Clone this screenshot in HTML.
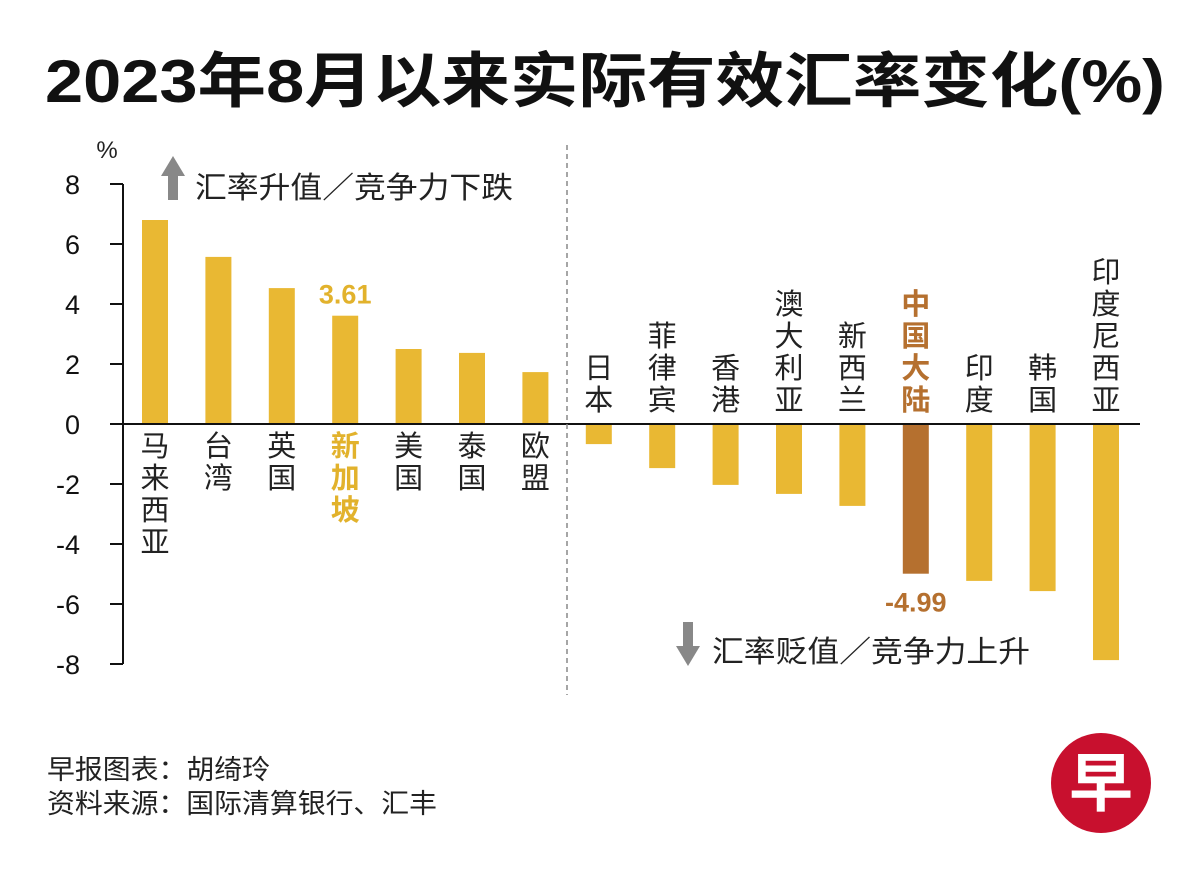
<!DOCTYPE html>
<html><head><meta charset="utf-8"><style>
body{margin:0;background:#fff;}
svg text{font-family:"Liberation Sans","Noto Sans CJK SC",sans-serif;}
</style></head><body>
<svg width="1200" height="873" viewBox="0 0 1200 873">
<text x="45" y="102" font-size="60" font-weight="bold" fill="#111" textLength="1120" lengthAdjust="spacingAndGlyphs">2023年8月以来实际有效汇率变化(%)</text>
<text x="107" y="158" text-anchor="middle" font-size="24" fill="#222">%</text>
<g id="axis"></g>
<g id="bars"></g>
<line x1="567" y1="145" x2="567" y2="695" stroke="#888" stroke-width="1.5" stroke-dasharray="5,4"/>
<g>
<path d="M168,200 L168,176 L161,176 L173,156 L185,176 L178,176 L178,200 Z" fill="#888"/>
<text x="195" y="198" font-size="30" fill="#222" textLength="318" lengthAdjust="spacingAndGlyphs">汇率升值／竞争力下跌</text>
</g>
<g>
<path d="M683,622 L683,646 L676,646 L688,666 L700,646 L693,646 L693,622 Z" fill="#888"/>
<text x="712" y="662" font-size="30" fill="#222" textLength="318" lengthAdjust="spacingAndGlyphs">汇率贬值／竞争力上升</text>
</g>
<text x="47" y="779" font-size="27" fill="#222" textLength="223" lengthAdjust="spacingAndGlyphs">早报图表：胡绮玲</text>
<text x="47" y="813" font-size="27" fill="#222" textLength="390" lengthAdjust="spacingAndGlyphs">资料来源：国际清算银行、汇丰</text>
<g>
<circle cx="1101" cy="783" r="50" fill="#C8102E"/>
<text x="1101" y="806" text-anchor="middle" font-size="64" font-weight="bold" fill="#fff">早</text>
</g>
</svg>
<script>
const categories=["马来西亚","台湾","英国","新加坡","美国","泰国","欧盟","日本","菲律宾","香港","澳大利亚","新西兰","中国大陆","印度","韩国","印度尼西亚"];
const values=[6.8,5.57,4.53,3.61,2.5,2.37,1.73,-0.67,-1.47,-2.03,-2.33,-2.73,-4.99,-5.23,-5.57,-7.87];
const highlights=["新加坡","中国大陆"];
const valueLabels={"新加坡":"3.61","中国大陆":"-4.99"};
const ticks=[8,6,4,2,0,-2,-4,-6,-8];
const NS="http://www.w3.org/2000/svg";
const y=v=>424-v*30;
const x=i=>155+i*63.4;
function mk(t,a,p){const e=document.createElementNS(NS,t);for(const k in a)e.setAttribute(k,a[k]);p.appendChild(e);return e;}
const ax=document.getElementById('axis');
let l=mk('line',{x1:123,y1:y(8),x2:123,y2:y(-8),stroke:'#111','stroke-width':2},ax);


ticks.forEach(t=>{
 const tk=mk('line',{x1:110,y1:y(t),x2:123,y2:y(t),stroke:'#111','stroke-width':2},ax);
 
 
 const tx=mk('text',{x:80,y:y(t)+10,'text-anchor':'end','font-size':27,fill:'#111'},ax);
 tx.textContent=t;
 
 
});
const bg=document.getElementById('bars');
categories.forEach((c,i)=>{
 const v=values[i];const cx=x(i);
 const china=c==="中国大陆";
 const col=china?'#B5702F':'#E9B833';
 const r=mk('rect',{x:cx-13,y:Math.min(y(v),y(0)),width:26,height:Math.abs(y(v)-y(0)),fill:col},bg);
 
 
 const hl=highlights.includes(c);
 const tcol=china?'#B5702F':(hl?'#E2B22C':'#222');
 const chars=[...c];
 chars.forEach((ch,j)=>{
  const yy=v>=0?456+j*32:410-(chars.length-1-j)*32;
  const t=mk('text',{x:cx,y:yy,'text-anchor':'middle','font-size':29,fill:tcol,'font-weight':hl?'bold':'normal'},bg);
  t.textContent=ch;
  
  
 });
 if(valueLabels[c]){
  const vy=v>=0?y(v)-12:y(v)+38;
  const t=mk('text',{x:cx,y:vy,'text-anchor':'middle','font-size':27,'font-weight':'bold',fill:tcol},bg);
  t.textContent=valueLabels[c];
  
  
 }
});
const z=mk('line',{x1:123,y1:y(0),x2:1140,y2:y(0),stroke:'#111','stroke-width':2},bg);


</script>
</body></html>
